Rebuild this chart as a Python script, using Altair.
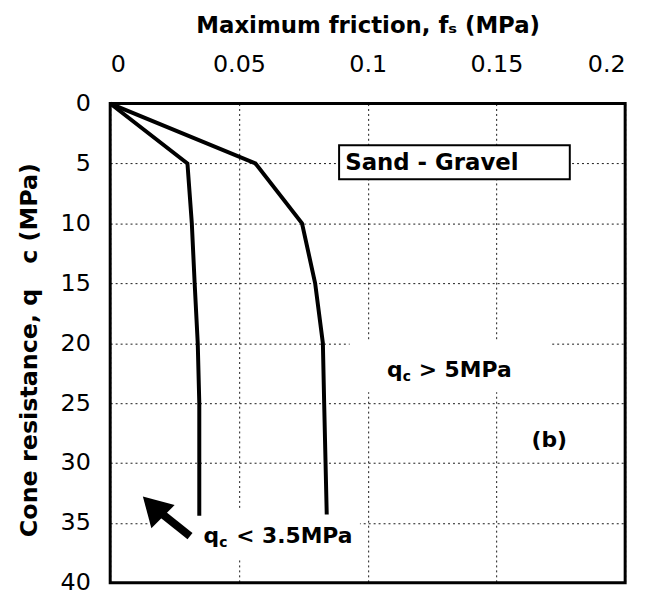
import altair as alt
import pandas as pd

# Curve data
fs_low = [0.0, 0.0300, 0.0317, 0.0328, 0.0340, 0.0346, 0.0346]
qc_low = [0, 5, 10, 15, 20, 25, 34.4]
fs_high = [0.0, 0.0564, 0.0745, 0.0796, 0.0826, 0.0831, 0.0841]
qc_high = [0, 5, 10, 15, 20, 25, 34.3]

x_ticks = [0, 0.05, 0.1, 0.15, 0.2]
y_ticks = [0, 5, 10, 15, 20, 25, 30, 35, 40]

x_title = "Maximum friction, fₛ (MPa)"
y_title = "Cone resistance, q\u00a0\u00a0\u00a0c (MPa)"

# Annotation anchors (data coordinates)
box_x = [0.0889, 0.1785]
box_y = [3.48, 6.32]
box_label = "Sand - Gravel"
box_label_pos = [0.0913, 4.95]

label_hi_pos = [0.1075, 22.8]
label_lo_pos = [0.0362, 36.7]
label_b = "(b)"
label_b_pos = [0.1705, 28.1]

# white patches under labels (gaps in grid)
patch_x1 = [0.093, 0.017]
patch_x2 = [0.171, 0.097]
patch_y1 = [19.8, 33.9]
patch_y2 = [24.1, 38.0]

arrow_head = [0.0166, 33.64]
arrow_tail = [0.0310, 36.1]

FONT = "DejaVu Sans"

def X(field="fs"):
    return alt.X(f"{field}:Q",
                 scale=alt.Scale(domain=[0, 0.2], nice=False, zero=False),
                 axis=alt.Axis(orient="top", values=x_ticks, format="~g",
                               title=x_title, titleFontSize=23, titleFont=FONT,
                               titleFontWeight="bold", titlePadding=16,
                               labelFontSize=24, labelFont=FONT, labelPadding=27,
                               tickSize=0, domain=False, grid=True,
                               gridColor="#000", gridDash=[2, 3], gridWidth=1,
                               gridOpacity=0.9, labelColor="#000", titleColor="#000"))

def Y(field="qc"):
    return alt.Y(f"{field}:Q",
                 scale=alt.Scale(domain=[0, 40], reverse=True, nice=False),
                 axis=alt.Axis(values=y_ticks, title=y_title, titleFontSize=24,
                               titleFont=FONT, titleFontWeight="bold", titlePadding=19,
                               titleY=248,
                               labelFontSize=24, labelFont=FONT, labelPadding=20,
                               tickSize=0, domain=False, grid=True,
                               gridColor="#000", gridDash=[2, 3], gridWidth=1,
                               gridOpacity=0.9, labelColor="#000", titleColor="#000"))

curves = pd.DataFrame({
    "fs": fs_low + fs_high,
    "qc": qc_low + qc_high,
    "series": ["low"] * len(fs_low) + ["high"] * len(fs_high),
    "order": list(range(len(fs_low))) + list(range(len(fs_high))),
})

patches = pd.DataFrame({"fs": patch_x1, "fs2": patch_x2, "qc": patch_y1, "qc2": patch_y2})
patch_layer = alt.Chart(patches).mark_rect(color="white", opacity=1).encode(
    x=X(), x2="fs2:Q", y=Y(), y2="qc2:Q")

line_layer = alt.Chart(curves).mark_line(color="black", strokeWidth=4,
                                         strokeJoin="miter").encode(
    x=X(), y=Y(), detail="series:N", order="order:Q")

box = pd.DataFrame({"fs": [box_x[0]], "fs2": [box_x[1]], "qc": [box_y[0]], "qc2": [box_y[1]]})
box_layer = alt.Chart(box).mark_rect(fill="white", stroke="black", strokeWidth=2).encode(
    x=X(), x2="fs2:Q", y=Y(), y2="qc2:Q")

box_text = alt.Chart(pd.DataFrame({"fs": [box_label_pos[0]], "qc": [box_label_pos[1]],
                                   "t": [box_label]})).mark_text(
    align="left", baseline="middle", font=FONT, fontSize=23, fontWeight="bold",
    color="black").encode(x=X(), y=Y(), text="t:N")

def qc_label(pos, rest, c_dx, rest_dx):
    df = pd.DataFrame({"fs": [pos[0]], "qc": [pos[1]]})
    base = alt.Chart(df)
    q = base.mark_text(align="left", baseline="alphabetic", font=FONT, fontSize=22,
                       fontWeight="bold", color="black", text="q").encode(x=X(), y=Y())
    c = base.mark_text(align="left", baseline="alphabetic", font=FONT, fontSize=14,
                       fontWeight="bold", color="black", text="c", dx=c_dx, dy=4).encode(x=X(), y=Y())
    r = base.mark_text(align="left", baseline="alphabetic", font=FONT, fontSize=22,
                       fontWeight="bold", color="black", text=rest, dx=rest_dx).encode(x=X(), y=Y())
    return [q, c, r]

hi_layers = qc_label(label_hi_pos, "> 5MPa", 16, 32)
lo_layers = qc_label(label_lo_pos, "< 3.5MPa", 16, 33)

b_layer = alt.Chart(pd.DataFrame({"fs": [label_b_pos[0]], "qc": [label_b_pos[1]],
                                  "t": [label_b]})).mark_text(
    align="center", baseline="middle", font=FONT, fontSize=22, fontWeight="bold",
    color="black").encode(x=X(), y=Y(), text="t:N")

shaft = pd.DataFrame({"fs": [arrow_head[0]], "fs2": [arrow_tail[0]],
                      "qc": [arrow_head[1]], "qc2": [arrow_tail[1]]})
shaft_layer = alt.Chart(shaft).mark_rule(color="black", strokeWidth=8).encode(
    x=X(), x2="fs2:Q", y=Y(), y2="qc2:Q")

head = pd.DataFrame({"fs": [arrow_head[0]], "qc": [arrow_head[1]]})
head_layer = alt.Chart(head).mark_point(shape="triangle-up", size=1100, filled=True,
                                        color="black", opacity=1, angle=315).encode(
    x=X(), y=Y())

chart = alt.layer(patch_layer, line_layer, box_layer, box_text, *hi_layers, *lo_layers,
                  b_layer, shaft_layer, head_layer).properties(
    width=519, height=483,
    autosize=alt.AutoSizeParams(type="none"),
    padding={"left": 103, "top": 94, "right": 20, "bottom": 10},
).configure(
    background="white",
    view=alt.ViewConfig(stroke="black", strokeWidth=3),
)

chart.save("out.html", embed_options={"renderer": "svg", "actions": False})
